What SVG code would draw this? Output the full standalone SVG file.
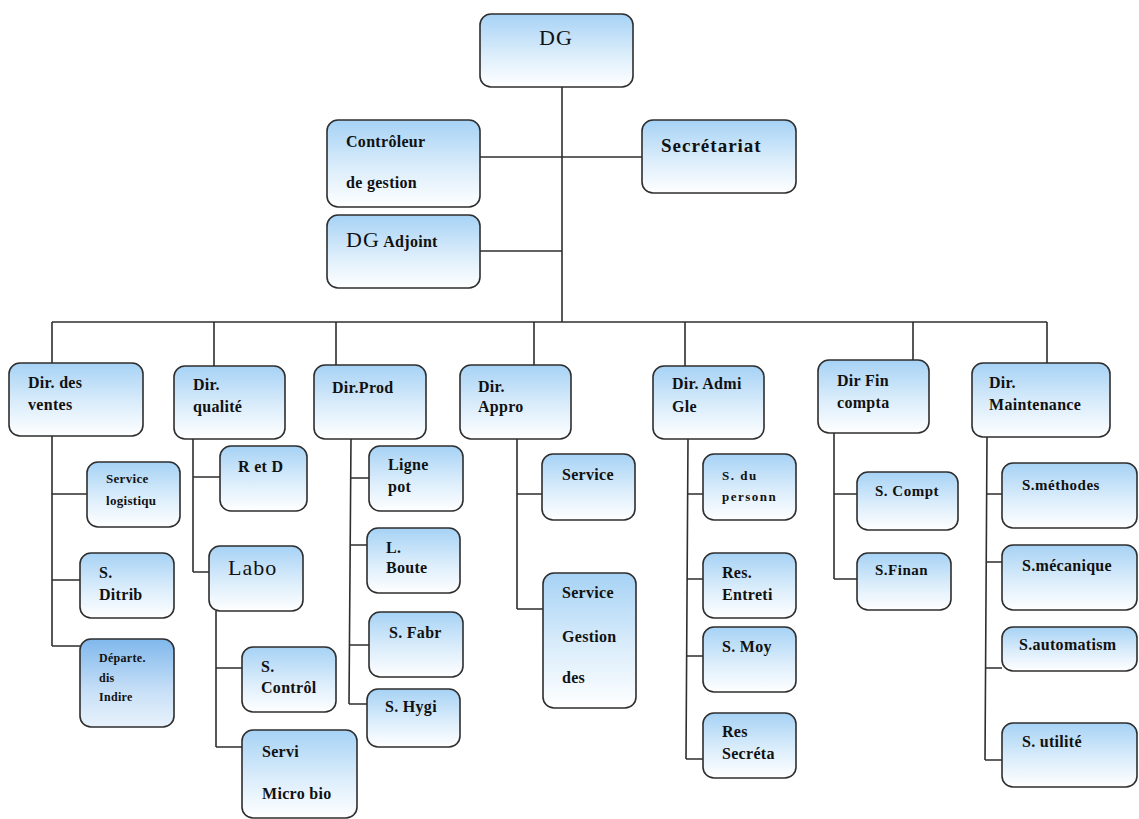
<svg xmlns="http://www.w3.org/2000/svg" width="1139" height="819" viewBox="0 0 1139 819">
  <defs>
    <linearGradient id="boxFill" x1="0" y1="0" x2="0" y2="1">
      <stop offset="0" stop-color="#a6d2f5"/>
      <stop offset="0.55" stop-color="#dbedfb"/>
      <stop offset="1" stop-color="#ffffff"/>
    </linearGradient>
    <linearGradient id="boxFillDark" x1="0" y1="0" x2="0" y2="1">
      <stop offset="0" stop-color="#80b8ec"/>
      <stop offset="0.6" stop-color="#c8e0f7"/>
      <stop offset="1" stop-color="#e8f2fb"/>
    </linearGradient>
    <style>
      .box { fill: url(#boxFill); stroke: #2e2e2e; stroke-width: 1.6; }
      .box.dark { fill: url(#boxFillDark); }
      text { font-family: "Liberation Serif", "DejaVu Serif", serif; }
      .lbl { font-weight: bold; font-size: 16px; fill: #111; letter-spacing: 0.3px; }
      .big { font-weight: normal; font-size: 22px; letter-spacing: 1px; }
      .sec { font-size: 19px; letter-spacing: 1px; }
      .sm { font-size: 13px; }
      .xs { font-size: 12px; }
      .wide { font-size: 13px; letter-spacing: 1.5px; }
      .mid { font-size: 15px; letter-spacing: 0.5px; }
      .conn path { fill: none; stroke: #2e2e2e; stroke-width: 1.6; }
    </style>
  </defs>
  <rect width="1139" height="819" fill="#ffffff"/>

  <!-- connectors -->
  <g class="conn" id="connectors">
    <path d="M562 87 V322"/>
    <path d="M480 157 H642"/>
    <path d="M480 251 H562"/>
    <path d="M52 322 H1047"/>
    <path d="M52 322 V363 M214 322 V366 M336 322 V365 M534 322 V365 M685 322 V366 M913 322 V360 M1047 322 V363"/>
    <!-- ventes -->
    <path d="M52 436 V646 M52 494 H87 M52 580 H80 M52 646 H80"/>
    <!-- qualite -->
    <path d="M193 439 V572 M193 477 H220 M193 572 H209"/>
    <path d="M216 611 V747 M216 668 H242 M216 747 H242"/>
    <!-- prod -->
    <path d="M351 439 L349 704 M351 478 H369 M350 545 H367 M350 645 H369 M349 704 H367"/>
    <!-- appro -->
    <path d="M517 439 V609 M517 494 H542 M517 609 H543"/>
    <!-- admi -->
    <path d="M688 439 L686 759 M688 494 H703 M687 579 H703 M687 656 H703 M686 759 H703"/>
    <!-- fin -->
    <path d="M834 433 V579 M834 494 H857 M834 579 H857"/>
    <!-- maintenance -->
    <path d="M987 437 L985 760 M987 494 H1002 M986 562 H1002 M986 668 H1002 M985 760 H1002"/>
  </g>

  <!-- top level -->
  <g id="dg"><rect class="box" x="480" y="14" width="153" height="73" rx="11"/>
    <text class="lbl big" x="556" y="45" text-anchor="middle">DG</text></g>
  <g id="controleur"><rect class="box" x="327" y="120" width="153" height="87" rx="11"/>
    <text class="lbl" x="346" y="147">Contrôleur</text>
    <text class="lbl" x="346" y="188">de gestion</text></g>
  <g id="secretariat"><rect class="box" x="642" y="120" width="154" height="73" rx="11"/>
    <text class="lbl sec" x="661" y="152">Secrétariat</text></g>
  <g id="dg-adjoint"><rect class="box" x="327" y="215" width="153" height="73" rx="11"/>
    <text class="lbl" x="346" y="247"><tspan font-size="22" font-weight="normal" letter-spacing="1">DG</tspan> Adjoint</text></g>

  <!-- directions -->
  <g id="dir-ventes"><rect class="box" x="9" y="363" width="134" height="73" rx="11"/>
    <text class="lbl" x="28" y="388">Dir. des</text>
    <text class="lbl" x="28" y="410">ventes</text></g>
  <g id="dir-qualite"><rect class="box" x="174" y="366" width="111" height="73" rx="11"/>
    <text class="lbl" x="193" y="390">Dir.</text>
    <text class="lbl" x="193" y="412">qualité</text></g>
  <g id="dir-prod"><rect class="box" x="314" y="365" width="112" height="74" rx="11"/>
    <text class="lbl" x="332" y="393">Dir.Prod</text></g>
  <g id="dir-appro"><rect class="box" x="460" y="365" width="111" height="74" rx="11"/>
    <text class="lbl" x="478" y="392">Dir.</text>
    <text class="lbl" x="478" y="412">Appro</text></g>
  <g id="dir-admi"><rect class="box" x="653" y="366" width="111" height="73" rx="11"/>
    <text class="lbl" x="672" y="389">Dir. Admi</text>
    <text class="lbl" x="672" y="412">Gle</text></g>
  <g id="dir-fin"><rect class="box" x="818" y="360" width="111" height="73" rx="11"/>
    <text class="lbl" x="837" y="386">Dir Fin</text>
    <text class="lbl" x="837" y="408">compta</text></g>
  <g id="dir-maintenance"><rect class="box" x="972" y="363" width="138" height="74" rx="11"/>
    <text class="lbl" x="989" y="388">Dir.</text>
    <text class="lbl" x="989" y="410">Maintenance</text></g>

  <!-- ventes services -->
  <g id="s-logistique"><rect class="box" x="87" y="462" width="93" height="65" rx="11"/>
    <text class="lbl sm" x="106" y="483">Service</text>
    <text class="lbl sm" x="106" y="505">logistiqu</text></g>
  <g id="s-distrib"><rect class="box" x="80" y="553" width="94" height="65" rx="11"/>
    <text class="lbl" x="99" y="578">S.</text>
    <text class="lbl" x="99" y="600">Ditrib</text></g>
  <g id="dept-indirect"><rect class="box dark" x="80" y="639" width="94" height="88" rx="11"/>
    <text class="lbl xs" x="99" y="662">Départe.</text>
    <text class="lbl xs" x="99" y="682">dis</text>
    <text class="lbl xs" x="99" y="701">Indire</text></g>

  <!-- qualite services -->
  <g id="r-et-d"><rect class="box" x="220" y="446" width="87" height="65" rx="11"/>
    <text class="lbl" x="238" y="472">R et D</text></g>
  <g id="labo"><rect class="box" x="209" y="546" width="94" height="65" rx="11"/>
    <text class="lbl big" x="228" y="575">Labo</text></g>
  <g id="s-controle"><rect class="box" x="242" y="647" width="94" height="65" rx="11"/>
    <text class="lbl" x="261" y="672">S.</text>
    <text class="lbl" x="261" y="693">Contrôl</text></g>
  <g id="s-microbio"><rect class="box" x="242" y="730" width="115" height="88" rx="11"/>
    <text class="lbl" x="262" y="757">Servi</text>
    <text class="lbl" x="262" y="799" letter-spacing="0.8">Micro bio</text></g>

  <!-- production -->
  <g id="ligne-pot"><rect class="box" x="369" y="446" width="94" height="65" rx="11"/>
    <text class="lbl" x="388" y="470">Ligne</text>
    <text class="lbl" x="388" y="492">pot</text></g>
  <g id="ligne-bouteille"><rect class="box" x="367" y="528" width="93" height="65" rx="11"/>
    <text class="lbl" x="386" y="553">L.</text>
    <text class="lbl" x="386" y="573">Boute</text></g>
  <g id="s-fabrication"><rect class="box" x="369" y="612" width="94" height="65" rx="11"/>
    <text class="lbl" x="389" y="638">S. Fabr</text></g>
  <g id="s-hygiene"><rect class="box" x="367" y="689" width="93" height="58" rx="11"/>
    <text class="lbl" x="385" y="712">S. Hygi</text></g>

  <!-- approvisionnement -->
  <g id="s-appro"><rect class="box" x="542" y="454" width="93" height="66" rx="11"/>
    <text class="lbl" x="562" y="480">Service</text></g>
  <g id="s-gestion"><rect class="box" x="543" y="573" width="93" height="135" rx="11"/>
    <text class="lbl" x="562" y="598">Service</text>
    <text class="lbl" x="562" y="642">Gestion</text>
    <text class="lbl" x="562" y="683">des</text></g>

  <!-- administration -->
  <g id="s-personnel"><rect class="box" x="703" y="454" width="93" height="66" rx="11"/>
    <text class="lbl wide" x="722" y="480">S. du</text>
    <text class="lbl wide" x="722" y="501">personn</text></g>
  <g id="res-entretien"><rect class="box" x="703" y="553" width="93" height="65" rx="11"/>
    <text class="lbl" x="722" y="578">Res.</text>
    <text class="lbl" x="722" y="600">Entreti</text></g>
  <g id="s-moyens"><rect class="box" x="703" y="627" width="93" height="65" rx="11"/>
    <text class="lbl" x="722" y="652">S. Moy</text></g>
  <g id="res-secretariat"><rect class="box" x="703" y="713" width="93" height="65" rx="11"/>
    <text class="lbl" x="722" y="737">Res</text>
    <text class="lbl" x="722" y="759">Secréta</text></g>

  <!-- finance -->
  <g id="s-compta"><rect class="box" x="857" y="472" width="101" height="58" rx="11"/>
    <text class="lbl mid" x="875" y="496">S. Compt</text></g>
  <g id="s-finance"><rect class="box" x="857" y="553" width="94" height="57" rx="11"/>
    <text class="lbl mid" x="875" y="575">S.Finan</text></g>

  <!-- maintenance -->
  <g id="s-methodes"><rect class="box" x="1002" y="463" width="135" height="65" rx="11"/>
    <text class="lbl mid" x="1022" y="490">S.méthodes</text></g>
  <g id="s-mecanique"><rect class="box" x="1002" y="545" width="135" height="65" rx="11"/>
    <text class="lbl" x="1022" y="571" font-size="14" letter-spacing="0.6">S.mécanique</text></g>
  <g id="s-automatisme"><rect class="box" x="1002" y="627" width="135" height="44" rx="11"/>
    <text class="lbl" x="1019" y="650">S.automatism</text></g>
  <g id="s-utilite"><rect class="box" x="1002" y="723" width="135" height="64" rx="11"/>
    <text class="lbl" x="1022" y="747">S. utilité</text></g>
</svg>
